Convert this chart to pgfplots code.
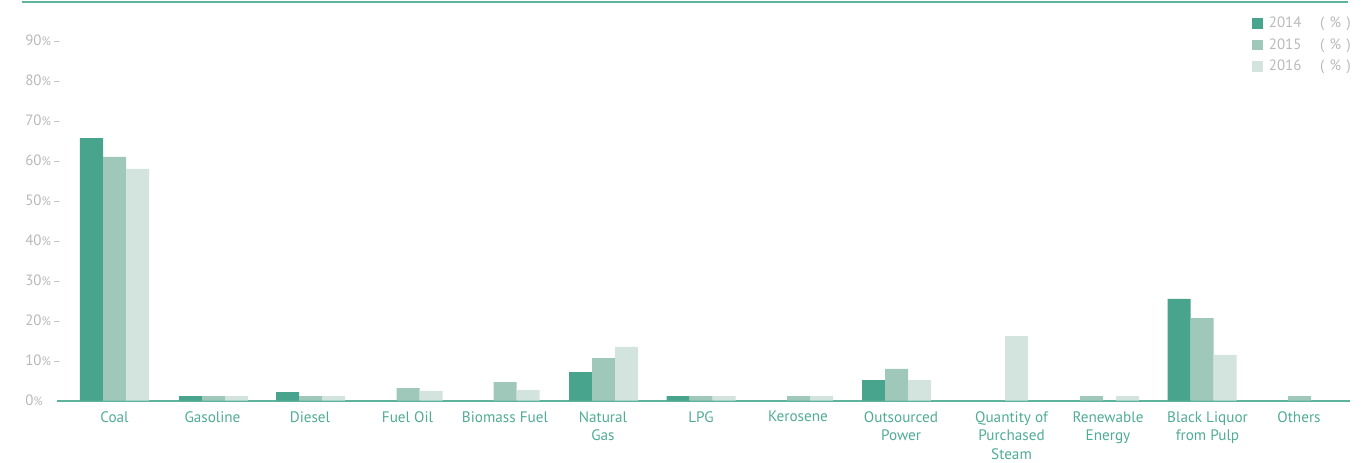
\documentclass[border=0pt]{standalone}
\usepackage{pgfplots}
\pgfplotsset{compat=1.18}
\usepackage{fontspec}
\setmainfont{PT Sans}
\definecolor{cA}{RGB}{72,164,141}
\definecolor{cB}{RGB}{160,200,186}
\definecolor{cC}{RGB}{211,228,222}
\definecolor{teal1}{RGB}{93,179,155}
\definecolor{lab}{RGB}{80,172,148}
\definecolor{gry}{RGB}{185,185,185}
\begin{document}
\begin{tikzpicture}
\begin{axis}[
  scale only axis,
  width=969.75pt, height=300pt,
  xmin=57, xmax=1350, ymin=0, ymax=100,
  ybar=0pt, bar width=17.25pt,
  axis x line=bottom, axis y line=none,
  x axis line style={draw=teal1, line width=1.5pt, -},
  clip=false,
  xtick={114.5,212.5,310,407.5,505,603,701,798,901,1011.5,1108,1207.5,1299},
  xticklabels={Coal, Gasoline, Diesel, Fuel Oil, Biomass Fuel, {Natural\\Gas}, LPG, Kerosene, {Outsourced\\Power}, {Quantity of\\Purchased\\Steam}, {Renewable\\Energy}, {Black Liquor\\from Pulp}, Others},
  xticklabel style={align=center, text=lab, font=\fontsize{11.4}{13.9}\selectfont, yshift=-4.6pt},
  major tick length=0pt,
  legend style={draw=none, fill=none, at={(axis cs:1252,96.2)}, anchor=north west,
    font=\fontsize{11.2}{13}\selectfont, text=gry, row sep=4.6pt, inner sep=0pt,
    nodes={inner sep=1pt}},
  legend cell align=left,
  legend image code/.code={\fill[#1,draw=none] (0pt,-3.9pt) rectangle (8.2pt,4.1pt); \path (11.5pt,0pt);},
]
\addplot[fill=cA, draw=none] coordinates {(114.5,65.6) (213.5,1.1) (310.5,2.1) (603.5,7.1) (701,1.1) (896.5,5.1) (1202,25.4)};
\addplot[fill=cB, draw=none] coordinates {(114.5,60.9) (213.5,1.1) (310.5,1.1) (408,3.1) (505,4.6) (603.5,10.6) (701,1.1) (798.5,1.1) (896.5,7.9) (1091.5,1.1) (1202,20.6) (1299.5,1.1)};
\addplot[fill=cC, draw=none] coordinates {(114.5,57.9) (213.5,1.1) (310.5,1.1) (408,2.4) (505,2.6) (603.5,13.4) (701,1.1) (798.5,1.1) (896.5,5.1) (993.5,16.1) (1104.5,1.1) (1202,11.4)};
\legend{2014\hspace{14pt}(\hspace{4pt}\%\hspace{4pt}), 2015\hspace{14pt}(\hspace{4pt}\%\hspace{4pt}), 2016\hspace{14pt}(\hspace{4pt}\%\hspace{4pt})}
\draw[teal1, line width=1.5pt] (axis cs:22,99.6) -- (axis cs:1348,99.6);
\foreach \v/\t in {0/{0\small\%}, 10/{10\small\%\,--}, 20/{20\small\%\,--}, 30/{30\small\%\,--}, 40/{40\small\%\,--}, 50/{50\small\%\,--}, 60/{60\small\%\,--}, 70/{70\small\%\,--}, 80/{80\small\%\,--}, 90/{90\small\%\,--}}{
  \edef\temp{\noexpand\node[anchor=west, inner sep=0pt, text=gry, font=\noexpand\fontsize{11.2}{13}\noexpand\selectfont] at (axis cs:25,\v) {\unexpanded\expandafter{\t}};}\temp
}
\coordinate (BL) at (axis cs:0,-15.375);
\coordinate (TR) at (axis cs:1367,100.125);
\end{axis}
\pgfresetboundingbox
\path[use as bounding box] (BL) rectangle (TR);
\end{tikzpicture}
\end{document}
